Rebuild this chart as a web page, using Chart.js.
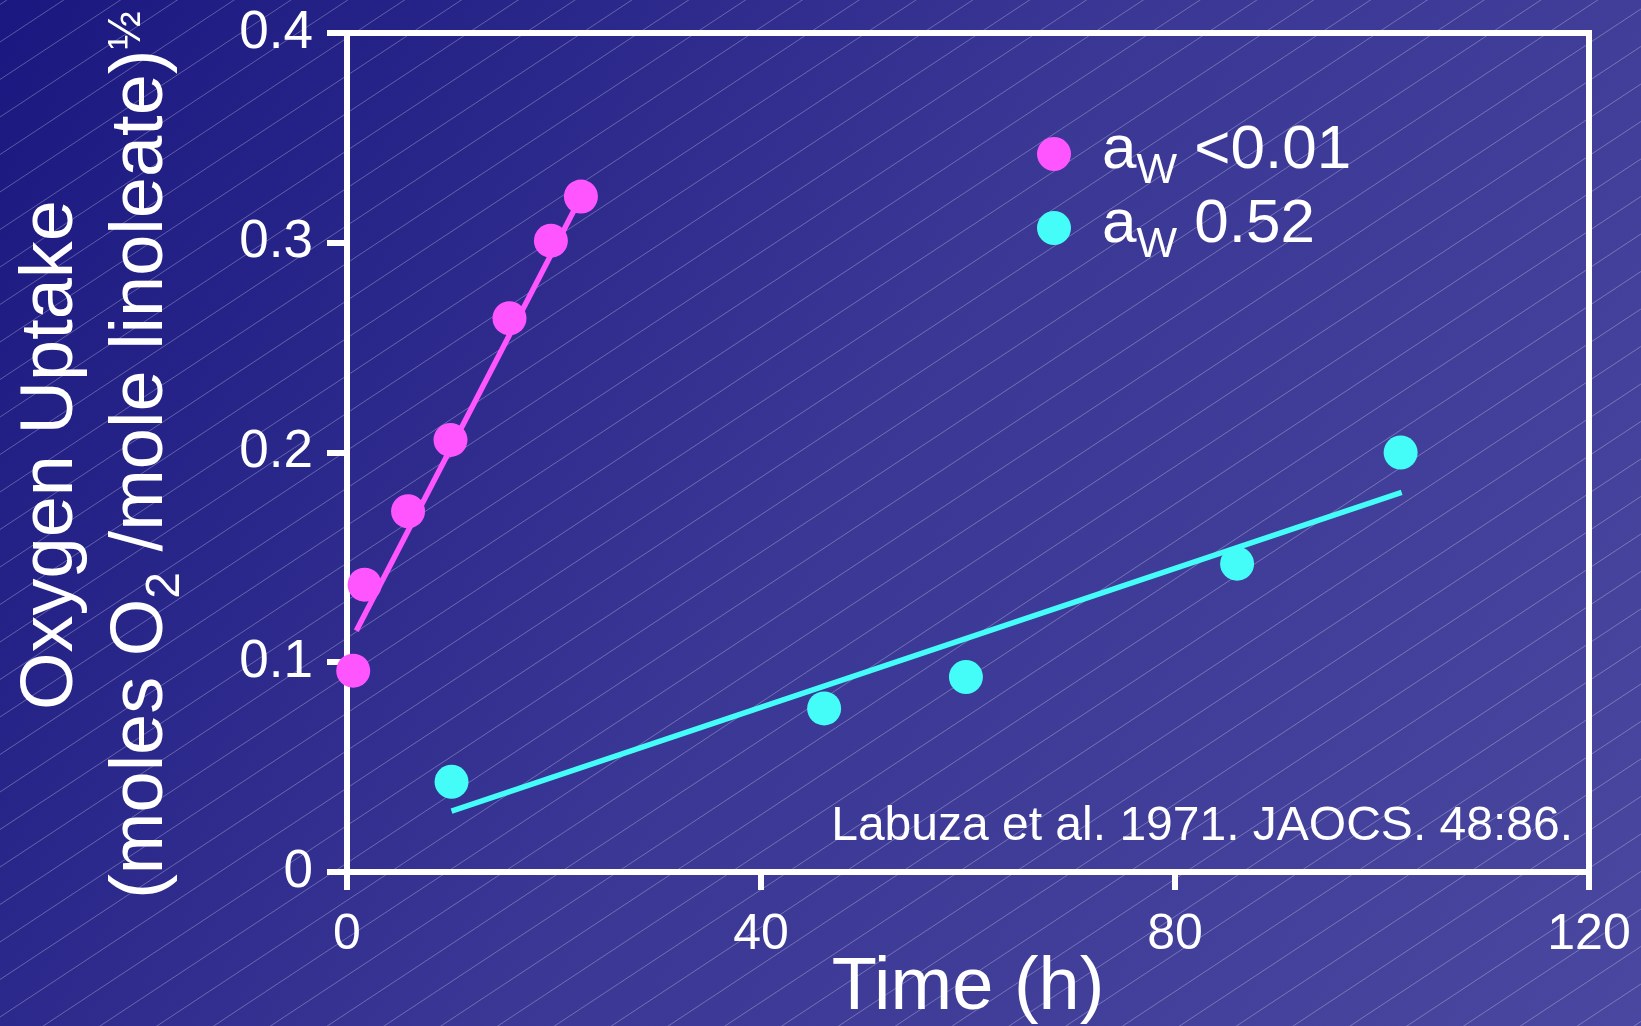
<!DOCTYPE html>
<html>
<head>
<meta charset="utf-8">
<title>Oxygen uptake vs time</title>
<script src="https://cdn.jsdelivr.net/npm/chart.js@4.4.1/dist/chart.umd.min.js"></script>
<style>
  html, body { margin: 0; padding: 0; background: #2a2788; }
  body { width: 1641px; height: 1026px; overflow: hidden; }
  #uptakeChart { display: block; }
</style>
</head>
<body>
<canvas id="uptakeChart" width="1641" height="1026"></canvas>
<script>
// values (Labuza et al. 1971)
const hoursDry = [0.6, 1.7, 5.9, 10.0, 15.7, 19.7, 22.6];
const uptakeDry = [0.096, 0.137, 0.172, 0.206, 0.264, 0.301, 0.322];
const hoursHumid = [10.1, 46.1, 59.8, 86.0, 101.8];
const uptakeHumid = [0.043, 0.078, 0.093, 0.147, 0.200];
// fitted straight lines, end points
const fitDryX = [0.9, 22.3];
const fitDryY = [0.115, 0.319];
const fitHumidX = [10.1, 101.9];
const fitHumidY = [0.029, 0.181];

const xTicks = [0, 40, 80, 120];
const yTicks = [0, 0.1, 0.2, 0.3, 0.4];

const MAGENTA = '#ff55ff';
const CYAN = '#44fcf8';
const FONT = "'Liberation Sans', Arial, sans-serif";
const AXIS_W = 6;

const pts = (xs, ys) => xs.map((x, i) => ({ x, y: ys[i] }));

// slide background: diagonal gradient + thin hatch lines
const slideBackground = {
  id: 'slideBackground',
  beforeDraw(chart) {
    const { ctx, width, height } = chart;
    ctx.save();
    const g = ctx.createLinearGradient(0, 0, width, height);
    g.addColorStop(0, '#1a1780');
    g.addColorStop(0.5, '#3a3795');
    g.addColorStop(1, '#4a47a0');
    ctx.fillStyle = g;
    ctx.fillRect(0, 0, width, height);
    ctx.strokeStyle = 'rgba(255,255,255,0.28)';
    ctx.lineWidth = 1;
    const slope = 0.66, gap = 37.5;
    ctx.beginPath();
    for (let y0 = 42 - gap * 2; y0 < height + width * slope + gap; y0 += gap) {
      ctx.moveTo(0, y0);
      ctx.lineTo(width, y0 - width * slope);
    }
    ctx.stroke();
    ctx.restore();
  }
};

// top + right sides of the box
const frameBox = {
  id: 'frameBox',
  beforeDatasetsDraw(chart) {
    const { ctx, chartArea: { left, top, right, bottom } } = chart;
    ctx.save();
    ctx.strokeStyle = '#fff';
    ctx.lineWidth = AXIS_W;
    ctx.beginPath();
    ctx.moveTo(left - AXIS_W / 2, top);
    ctx.lineTo(right, top);
    ctx.lineTo(right, bottom + AXIS_W / 2);
    ctx.stroke();
    ctx.restore();
  }
};

// draws runs of text with their own size / baseline shift
function drawRuns(ctx, runs, x, y, align) {
  const widths = runs.map(r => { ctx.font = `${r.size}px ${FONT}`; return ctx.measureText(r.t).width; });
  const total = widths.reduce((a, b) => a + b, 0);
  let cx = align === 'center' ? x - total / 2 : x;
  ctx.textAlign = 'left';
  ctx.textBaseline = 'alphabetic';
  runs.forEach((r, i) => {
    ctx.font = `${r.size}px ${FONT}`;
    ctx.fillText(r.t, cx, y + (r.dy || 0));
    cx += widths[i];
  });
}

const annotations = {
  id: 'annotations',
  afterDraw(chart) {
    const { ctx } = chart;
    ctx.save();
    ctx.fillStyle = '#fff';

    // y axis title, two rotated lines
    ctx.save();
    ctx.translate(72, 455);
    ctx.rotate(-Math.PI / 2);
    drawRuns(ctx, [{ t: 'Oxygen Uptake', size: 74 }], 0, 0, 'center');
    ctx.restore();
    ctx.save();
    ctx.translate(162, 455);
    ctx.rotate(-Math.PI / 2);
    drawRuns(ctx, [
      { t: '(moles O', size: 74 },
      { t: '2', size: 48, dy: 17 },
      { t: ' /mole linoleate)', size: 74 },
      { t: '½', size: 46, dy: -22 }
    ], 0, 0, 'center');
    ctx.restore();

    // legend
    const legendRows = [
      { color: MAGENTA, label: ' <0.01', y: 168 },
      { color: CYAN, label: ' 0.52', y: 242 }
    ];
    legendRows.forEach(row => {
      ctx.fillStyle = row.color;
      ctx.beginPath();
      ctx.arc(1054, row.y - 14, 17, 0, Math.PI * 2);
      ctx.fill();
      ctx.fillStyle = '#fff';
      drawRuns(ctx, [
        { t: 'a', size: 62 },
        { t: 'W', size: 43, dy: 15 },
        { t: row.label, size: 62 }
      ], 1102, row.y, 'left');
    });

    // citation
    ctx.font = `48px ${FONT}`;
    ctx.textAlign = 'right';
    ctx.textBaseline = 'alphabetic';
    ctx.fillText('Labuza et al. 1971. JAOCS. 48:86.', 1573, 840);
    ctx.restore();
  }
};

new Chart(document.getElementById('uptakeChart'), {
  type: 'scatter',
  data: {
    datasets: [
      { data: pts(fitDryX, fitDryY), showLine: true, borderColor: MAGENTA, borderWidth: 5.5, pointRadius: 0, clip: false },
      { data: pts(fitHumidX, fitHumidY), showLine: true, borderColor: CYAN, borderWidth: 5.5, pointRadius: 0, clip: false },
      { data: pts(hoursDry, uptakeDry), backgroundColor: MAGENTA, borderWidth: 0, pointRadius: 17, clip: false },
      { data: pts(hoursHumid, uptakeHumid), backgroundColor: CYAN, borderWidth: 0, pointRadius: 17, clip: false }
    ]
  },
  options: {
    responsive: false,
    animation: false,
    devicePixelRatio: 1,
    layout: { padding: { left: 0, right: 52, top: 33, bottom: 0 } },
    plugins: { legend: { display: false }, tooltip: { enabled: false } },
    scales: {
      x: {
        type: 'linear', min: 0, max: 120,
        afterBuildTicks: s => { s.ticks = xTicks.map(v => ({ value: v })); },
        afterFit: s => { s.height = 154; s.paddingLeft = 0; s.paddingRight = 0; },
        border: { color: '#fff', width: AXIS_W },
        grid: { drawOnChartArea: false, drawTicks: true, tickLength: 18, color: '#fff', lineWidth: AXIS_W },
        ticks: { color: '#fff', font: { family: FONT, size: 50 }, padding: 15, maxRotation: 0 },
        title: { display: true, text: 'Time (h)', color: '#fff', font: { family: FONT, size: 74 }, padding: { top: 0, bottom: -7 } }
      },
      y: {
        type: 'linear', min: 0, max: 0.4,
        afterBuildTicks: s => { s.ticks = yTicks.map(v => ({ value: v })); },
        afterFit: s => { s.width = 347; s.paddingTop = 0; s.paddingBottom = 0; },
        border: { color: '#fff', width: AXIS_W },
        grid: { drawOnChartArea: false, drawTicks: true, tickLength: 20, color: '#fff', lineWidth: AXIS_W },
        ticks: { color: '#fff', font: { family: FONT, size: 53 }, padding: 14, callback: v => String(+v.toFixed(1)) }
      }
    }
  },
  plugins: [slideBackground, frameBox, annotations]
});
</script>
</body>
</html>
